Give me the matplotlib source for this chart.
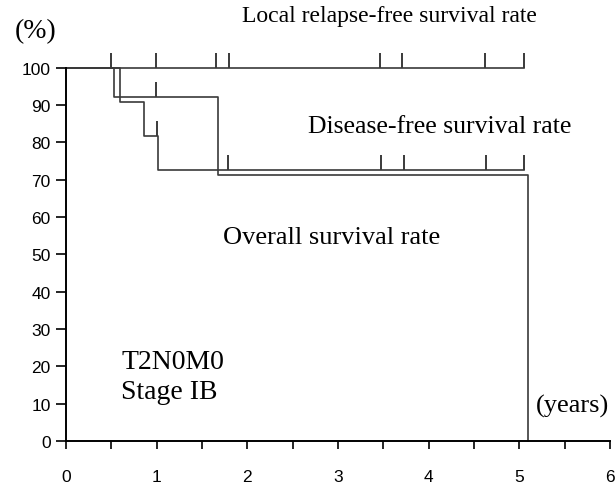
import numpy as np
import matplotlib.pyplot as plt

plt.rcParams['font.family'] = 'Liberation Sans'

# survival curves (time in years, rate in %)
local_t = [0, 5.05]
local_s = [100, 100]
local_cens = [0.50, 0.99, 1.66, 1.80, 3.47, 3.71, 4.62, 5.05]

os_t = [0, 0.53, 1.68, 5.10]
os_s = [100, 92.3, 71.4, 0]
os_cens = [0.99]

dfs_t = [0, 0.60, 0.86, 1.02, 5.05]
dfs_s = [100, 90.9, 81.8, 72.7, 72.7]
dfs_cens = [1.00, 1.79, 3.48, 3.73, 4.63, 5.05]

x_ticks = np.arange(0, 6.01, 0.5)
x_labels = [str(int(v)) if v == int(v) else '' for v in x_ticks]
y_ticks = np.arange(0, 101, 10)

line_col = '#3a3a3a'


def value_at(times, vals, t):
    i = np.searchsorted(times, t, side='right') - 1
    return vals[i]


fig = plt.figure(figsize=(6.16, 4.85), dpi=100)
ax = fig.add_axes([0.107, 0.089, 0.883, 0.769])

for times, vals, cens in [(local_t, local_s, local_cens),
                          (os_t, os_s, os_cens),
                          (dfs_t, dfs_s, dfs_cens)]:
    ax.step(times, vals, where='post', color=line_col, lw=1.2, clip_on=False)
    cy = [value_at(times, vals, t) for t in cens]
    ax.plot(cens, cy, ls='none', marker=2, markersize=11, mew=1.4,
            color=line_col, clip_on=False)

ax.set_xlim(0, 6)
ax.set_ylim(0, 100)
ax.set_xticks(x_ticks)
ax.set_xticklabels(x_labels)
ax.set_yticks(y_ticks)
for s in ['top', 'right']:
    ax.spines[s].set_visible(False)
for s in ['left', 'bottom']:
    ax.spines[s].set_linewidth(1.4)
ax.tick_params(axis='both', direction='out', width=1.2, labelsize=12.5)
ax.tick_params(axis='x', length=6, pad=14)
ax.tick_params(axis='y', length=7, pad=4)

serif = 'Liberation Serif'
fig.text(0.024, 0.934, '(%)', family=serif, fontsize=20, va='center')
fig.text(0.393, 0.965, 'Local relapse-free survival rate', family=serif,
         fontsize=17, va='center')
ax.text(2.67, 84.5, 'Disease-free survival rate', family=serif,
        fontsize=18.5, va='center')
ax.text(1.73, 54.7, 'Overall survival rate', family=serif, fontsize=19,
        va='center')
ax.text(0.61, 21.2, 'T2N0M0', family=serif, fontsize=20, va='center')
ax.text(0.61, 13.1, 'Stage IB', family=serif, fontsize=20, va='center')
ax.text(5.18, 9.4, '(years)', family=serif, fontsize=19, va='center',
        clip_on=False)

fig.savefig('out.png', dpi=100)
